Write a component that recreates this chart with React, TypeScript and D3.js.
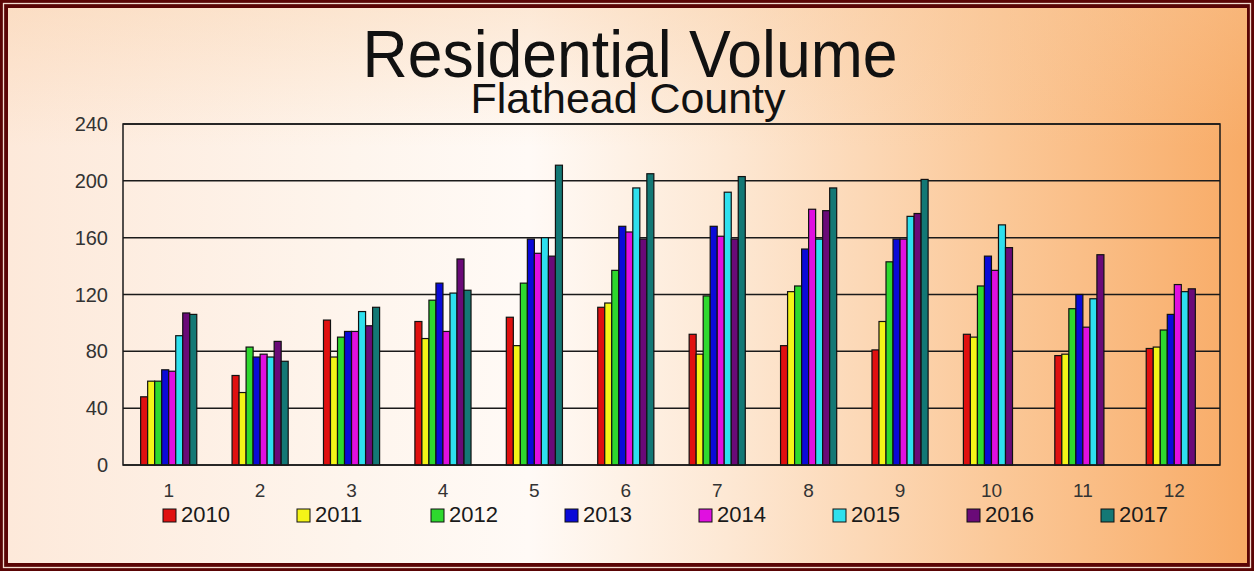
import React from "react";
import * as d3 from "d3";

const W = 1254;
const H = 571;

const months = ["1", "2", "3", "4", "5", "6", "7", "8", "9", "10", "11", "12"];
const years = ["2010", "2011", "2012", "2013", "2014", "2015", "2016", "2017"];

// monthly residential volume per year (2017 ends after september)
const v2010 = [48, 63, 102, 101, 104, 111, 92, 84, 81, 92, 77, 82];
const v2011 = [59, 51, 76, 89, 84, 114, 78, 122, 101, 90, 78, 83];
const v2012 = [59, 83, 90, 116, 128, 137, 119, 126, 143, 126, 110, 95];
const v2013 = [67, 76, 94, 128, 159, 168, 168, 152, 159, 147, 120, 106];
const v2014 = [66, 78, 94, 94, 149, 164, 161, 180, 159, 137, 97, 127];
const v2015 = [91, 76, 108, 121, 160, 195, 192, 159, 175, 169, 117, 122];
const v2016 = [107, 87, 98, 145, 147, 159, 159, 179, 177, 153, 148, 124];
const v2017 = [106, 73, 111, 123, 211, 205, 203, 195, 201, null, null, null];

const yTicks = [0, 40, 80, 120, 160, 200, 240];

const colors = ["#e01010", "#f4f418", "#2ed82e", "#0a0ad8", "#e010e0", "#2ee0ee", "#6a0a78", "#137875"];

const series = [v2010, v2011, v2012, v2013, v2014, v2015, v2016, v2017];

const margin = { top: 124, right: 34, bottom: 106, left: 123 };
const font = "'Liberation Sans', Arial, sans-serif";

export default function App() {
  const plotW = W - margin.left - margin.right;
  const plotH = H - margin.top - margin.bottom;

  const x0 = d3.scaleBand().domain(months).range([0, plotW]).paddingInner(0.386).paddingOuter(0.193);
  const x1 = d3.scaleBand().domain(years).range([0, x0.bandwidth()]);
  const y = d3.scaleLinear().domain([0, 240]).range([plotH, 0]);

  return (
    <svg width={W} height={H} style={{ position: "absolute", left: 0, top: 0, display: "block" }}>
      <defs>
        <linearGradient id="bg" x1="0" y1="0" x2="1" y2="0">
          <stop offset="0" stopColor="#fde9da" />
          <stop offset="0.28" stopColor="#fef5ed" />
          <stop offset="0.42" stopColor="#fffaf6" />
          <stop offset="0.58" stopColor="#fde8d4" />
          <stop offset="0.8" stopColor="#fbc898" />
          <stop offset="1" stopColor="#f8ab66" />
        </linearGradient>
        <linearGradient id="bgTop" x1="0" y1="0" x2="0" y2="1">
          <stop offset="0" stopColor="#f8c89a" stopOpacity="0.35" />
          <stop offset="0.25" stopColor="#f8c89a" stopOpacity="0" />
        </linearGradient>
      </defs>

      <rect x={0} y={0} width={W} height={H} fill="#5a0505" />
      <rect x={3.5} y={3.5} width={W - 7} height={H - 7} fill="none" stroke="#f2dccf" strokeWidth={1.3} />
      <rect x={8} y={8} width={W - 15} height={H - 16} fill="url(#bg)" />
      <rect x={8} y={8} width={W - 15} height={H - 16} fill="url(#bgTop)" />

      <text x={630} y={77} textAnchor="middle" fontFamily={font} fontSize={66} fill="#111"
        textLength={535} lengthAdjust="spacingAndGlyphs">Residential Volume</text>
      <text x={628} y={113} textAnchor="middle" fontFamily={font} fontSize={42} fill="#111"
        textLength={315} lengthAdjust="spacingAndGlyphs">Flathead County</text>

      <g transform={`translate(${margin.left},${margin.top})`}>
        {yTicks.map(t => (
          <line key={t} x1={0} x2={plotW} y1={y(t)} y2={y(t)} stroke="#1a1a1a" strokeWidth={1.5} />
        ))}

        {months.map((m, mi) => (
          <g key={m} transform={`translate(${x0(m)},0)`}>
            {series.map((s, si) => {
              const v = s[mi];
              if (v == null) return null;
              return (
                <rect key={si} x={x1(years[si])} y={y(v)} width={x1.bandwidth()} height={plotH - y(v)}
                  fill={colors[si]} stroke="#111" strokeWidth={1.2} />
              );
            })}
          </g>
        ))}

        <rect x={0} y={0} width={plotW} height={plotH} fill="none" stroke="#1a1a1a" strokeWidth={1.5} />

        {yTicks.map(t => (
          <text key={t} x={-15} y={y(t)} dy="0.35em" textAnchor="end" fontFamily={font} fontSize={20} fill="#333">{t}</text>
        ))}

        {months.map(m => (
          <text key={m} x={(x0(m) || 0) + x0.bandwidth() / 2} y={plotH + 32} textAnchor="middle"
            fontFamily={font} fontSize={19} fill="#333">{m}</text>
        ))}
      </g>

      <g transform="translate(163,509)">
        {years.map((yr, i) => (
          <g key={yr} transform={`translate(${i * 134},0)`}>
            <rect x={0} y={0} width={13} height={13} fill={colors[i]} stroke="#111" strokeWidth={1} />
            <text x={18} y={13} fontFamily={font} fontSize={22} fill="#1a1a1a">{yr}</text>
          </g>
        ))}
      </g>
    </svg>
  );
}
